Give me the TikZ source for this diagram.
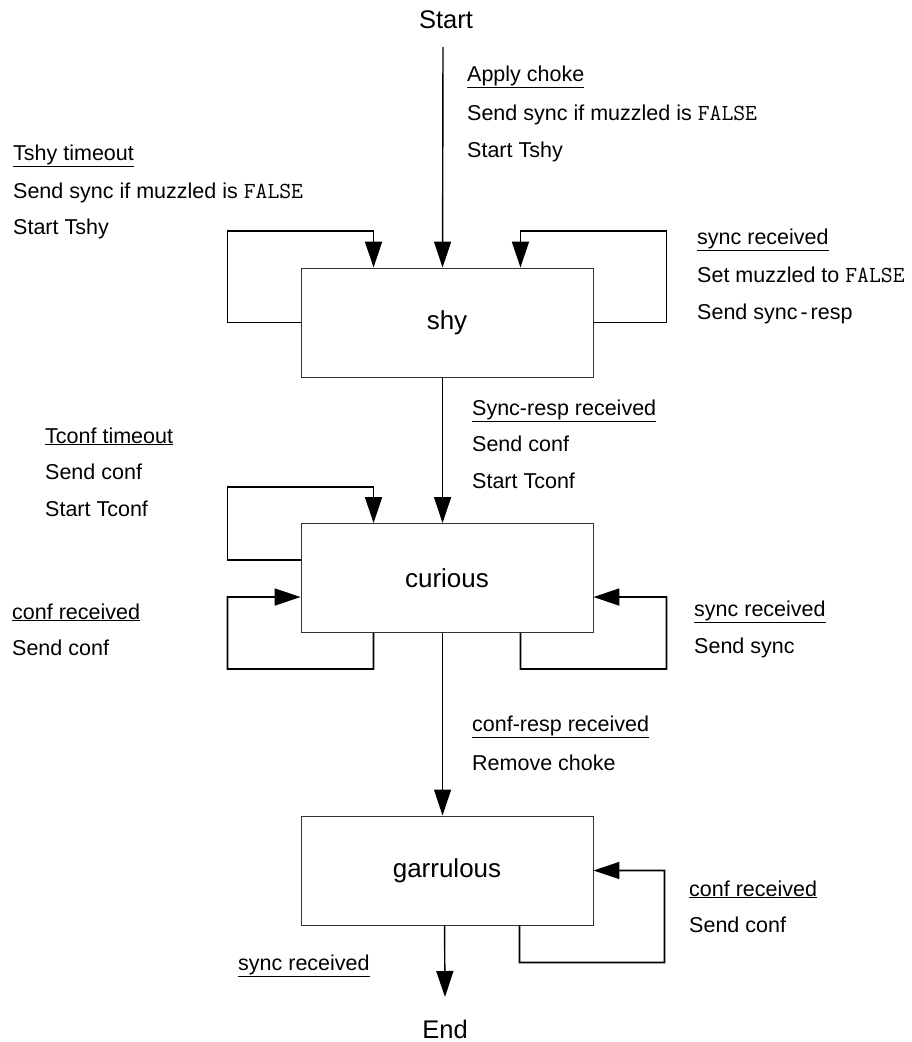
\documentclass[tikz,border=0pt]{standalone}
\usepackage{fontspec}
\setmainfont{Liberation Sans}
\usetikzlibrary{arrows.meta,calc}
\newcommand{\fls}{{\fontsize{23}{25}\ttfamily FALSE}}
\begin{document}
\begin{tikzpicture}[x=1pt,y=-1pt,
  state/.style={draw=black!80,line width=0.9pt,minimum width=292pt,minimum height=109pt,inner sep=0pt,font=\fontsize{26}{30}\selectfont},
  term/.style={inner sep=0pt,font=\fontsize{25.5}{30}\selectfont,anchor=base},
  lbl/.style={inner sep=0pt,anchor=base west,font=\fontsize{21.5}{25}\selectfont},
  tip/.style={-{Triangle[length=26pt,width=17pt]}},
  mainline/.style={line width=1.4pt,tip},
  loopline/.style={line width=1.8pt,tip}]
\useasboundingbox (0,0) rectangle (912,1042);
% states
\node[state] (shy) at (447,322.5) {shy};
\node[state] (curious) at (447,578) {curious};
\node[state] (garrulous) at (447,870.5) {garrulous};
\node[term] (start) at (446,28) {Start};
\node[term] (end) at (445,1038) {End};
\coordinate (startpt) at (443,47);
\coordinate (endpt) at (445,997);
% main transitions
\draw[mainline] (startpt) -- ($(shy.north west)+(142,0)$);
\draw[mainline] ($(shy.south west)+(142,0)$) -- ($(curious.north west)+(142,0)$);
\draw[mainline] ($(curious.south west)+(142,0)$) -- ($(garrulous.north west)+(142,0)$);
\draw[mainline] ($(garrulous.south west)+(144,0)$) -- (endpt);
% shy loops
\draw[loopline] (shy.west) -- ++(-73,0) -- ++(0,-91.5) -- ++(146,0) -- ($(shy.north west)+(73,0)$);
\draw[loopline] (shy.east) -- ++(73,0) -- ++(0,-91.5) -- ++(-146,0) -- ($(shy.north east)+(-73,0)$);
% curious loops
\draw[loopline] ($(curious.north west)+(0,37)$) -- ++(-73,0) -- ++(0,-73) -- ++(146,0) -- ($(curious.north west)+(73,0)$);
\draw[loopline] ($(curious.south west)+(73,0)$) -- ++(0,36) -- ++(-146,0) -- ++(0,-72) -- ($(curious.north west)+(0,74)$);
\draw[loopline] ($(curious.south east)+(-73,0)$) -- ++(0,36) -- ++(146,0) -- ++(0,-72) -- ($(curious.north east)+(0,74)$);
% garrulous loop
\draw[loopline] ($(garrulous.south east)+(-74,0)$) -- ++(0,37) -- ++(145,0) -- ++(0,-92) -- (garrulous.east);
% labels
\node[lbl] (l1) at (467,81) {\underline{Apply choke}};
\node[lbl] (l2) at (467,120) {Send sync if muzzled is \fls};
\node[lbl] (l3) at (467,157) {Start Tshy};
\node[lbl] (l4) at (13,160) {\underline{Tshy timeout}};
\node[lbl] (l5) at (13,198) {Send sync if muzzled is \fls};
\node[lbl] (l6) at (13,234) {Start Tshy};
\node[lbl] (l7) at (697,244) {\underline{sync received}};
\node[lbl] (l8) at (697,282) {Set muzzled to \fls};
\node[lbl] (l9) at (697,319) {Send sync\hspace{3pt}-\hspace{3pt}resp};
\node[lbl] (l10) at (472,415) {\underline{Sync-resp received}};
\node[lbl] (l11) at (472,451) {Send conf};
\node[lbl] (l12) at (472,488) {Start Tconf};
\node[lbl] (l13) at (45,443) {\underline{Tconf timeout}};
\node[lbl] (l14) at (45,479) {Send conf};
\node[lbl] (l15) at (45,516) {Start Tconf};
\node[lbl] (l16) at (12,619) {\underline{conf received}};
\node[lbl] (l17) at (12,655) {Send conf};
\node[lbl] (l18) at (694,616) {\underline{sync received}};
\node[lbl] (l19) at (694,653) {Send sync};
\node[lbl] (l20) at (472,731) {\underline{conf-resp received}};
\node[lbl] (l21) at (472,770) {Remove choke};
\node[lbl] (l22) at (689,896) {\underline{conf received}};
\node[lbl] (l23) at (689,932) {Send conf};
\node[lbl] (l24) at (238,970) {\underline{sync received}};
\end{tikzpicture}
\end{document}
